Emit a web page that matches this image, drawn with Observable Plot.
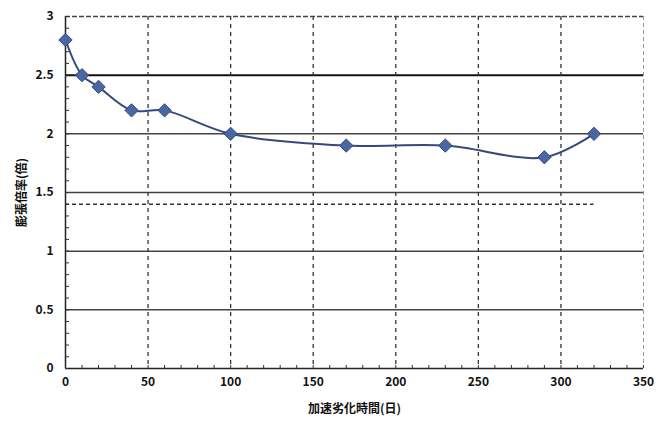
<!DOCTYPE html>
<html><head><meta charset="utf-8">
<script src="https://cdn.jsdelivr.net/npm/d3@7"></script>
<script src="https://cdn.jsdelivr.net/npm/@observablehq/plot@0.6"></script>
<style>
html,body{margin:0;padding:0;background:#fff;}
svg{font-family:"Noto Sans CJK JP","DejaVu Sans",sans-serif;}
</style></head>
<body><div id="chart"></div>
<script>
const days = [0, 10, 20, 40, 60, 100, 170, 230, 290, 320];
const ratio = [2.8, 2.5, 2.4, 2.2, 2.2, 2.0, 1.9, 1.9, 1.8, 2.0];
const xTicks = [0, 50, 100, 150, 200, 250, 300, 350];
const yTicks = [0, 0.5, 1, 1.5, 2, 2.5, 3];
const solidGrid = [0.5, 1, 1.5, 2, 2.5];
const dashedGrid = [50, 100, 150, 200, 250, 300];
const refLevel = 1.4;
const refSpan = [0, 320];
const xLabel = "加速劣化時間(日)";
const yLabel = "膨張倍率(倍)";

const data = days.map((d, i) => ({day: d, ratio: ratio[i]}));
const xMinor = d3.range(0, 351, 10);
const yMinor = d3.range(0, 3.001, 0.1);

const chart = Plot.plot({
  width: 656,
  height: 424,
  marginLeft: 65,
  marginRight: 13,
  marginTop: 16,
  marginBottom: 56,
  style: {fontSize: "12px", fontWeight: "bold", color: "#222"},
  x: {domain: [0, 350], label: null},
  y: {domain: [0, 3], label: null},
  marks: [
    Plot.ruleY(solidGrid, {stroke: d => d === 2.5 ? "#111" : "#444", strokeWidth: d => d === 2.5 ? 2 : 1.5}),
    Plot.ruleX(dashedGrid, {stroke: "#333", strokeWidth: 1.3, strokeDasharray: "4,4"}),
    Plot.ruleX([350], {stroke: "#999", strokeWidth: 1, strokeDasharray: "4,3"}),
    Plot.ruleY([3], {stroke: "#444", strokeWidth: 1.3, strokeDasharray: "5,2"}),
    Plot.ruleX([0], {stroke: "#222", strokeWidth: 1.5}),
    Plot.ruleY([0], {stroke: "#222", strokeWidth: 1.3}),
    Plot.ruleY([refLevel], {x1: refSpan[0], x2: refSpan[1], stroke: "#333", strokeWidth: 1.3, strokeDasharray: "4,3"}),
    Plot.axisY({ticks: yMinor, tickSize: -4, text: null, label: null, stroke: "#333"}),
    Plot.axisX({ticks: xMinor, tickSize: -3, text: null, label: null, stroke: "#333"}),
    Plot.axisY({ticks: yTicks, tickSize: 0, tickPadding: 12, tickFormat: d => String(d), label: yLabel, labelAnchor: "center", labelArrow: "none", labelOffset: 48, fontSize: 12, fill: "#111"}),
    Plot.axisX({ticks: xTicks, tickSize: 0, tickPadding: 9, tickFormat: d => String(d), label: xLabel, labelAnchor: "center", labelArrow: "none", labelOffset: 44, fontSize: 12, fill: "#111"}),
    Plot.line(data, {x: "day", y: "ratio", curve: "catmull-rom", stroke: "#34497e", strokeWidth: 2}),
    Plot.dot(data, {x: "day", y: "ratio", symbol: "diamond2", r: 6, fill: "#4a66a3", stroke: "#34497e", strokeWidth: 1})
  ]
});
document.getElementById("chart").appendChild(chart);
</script>
</body></html>
